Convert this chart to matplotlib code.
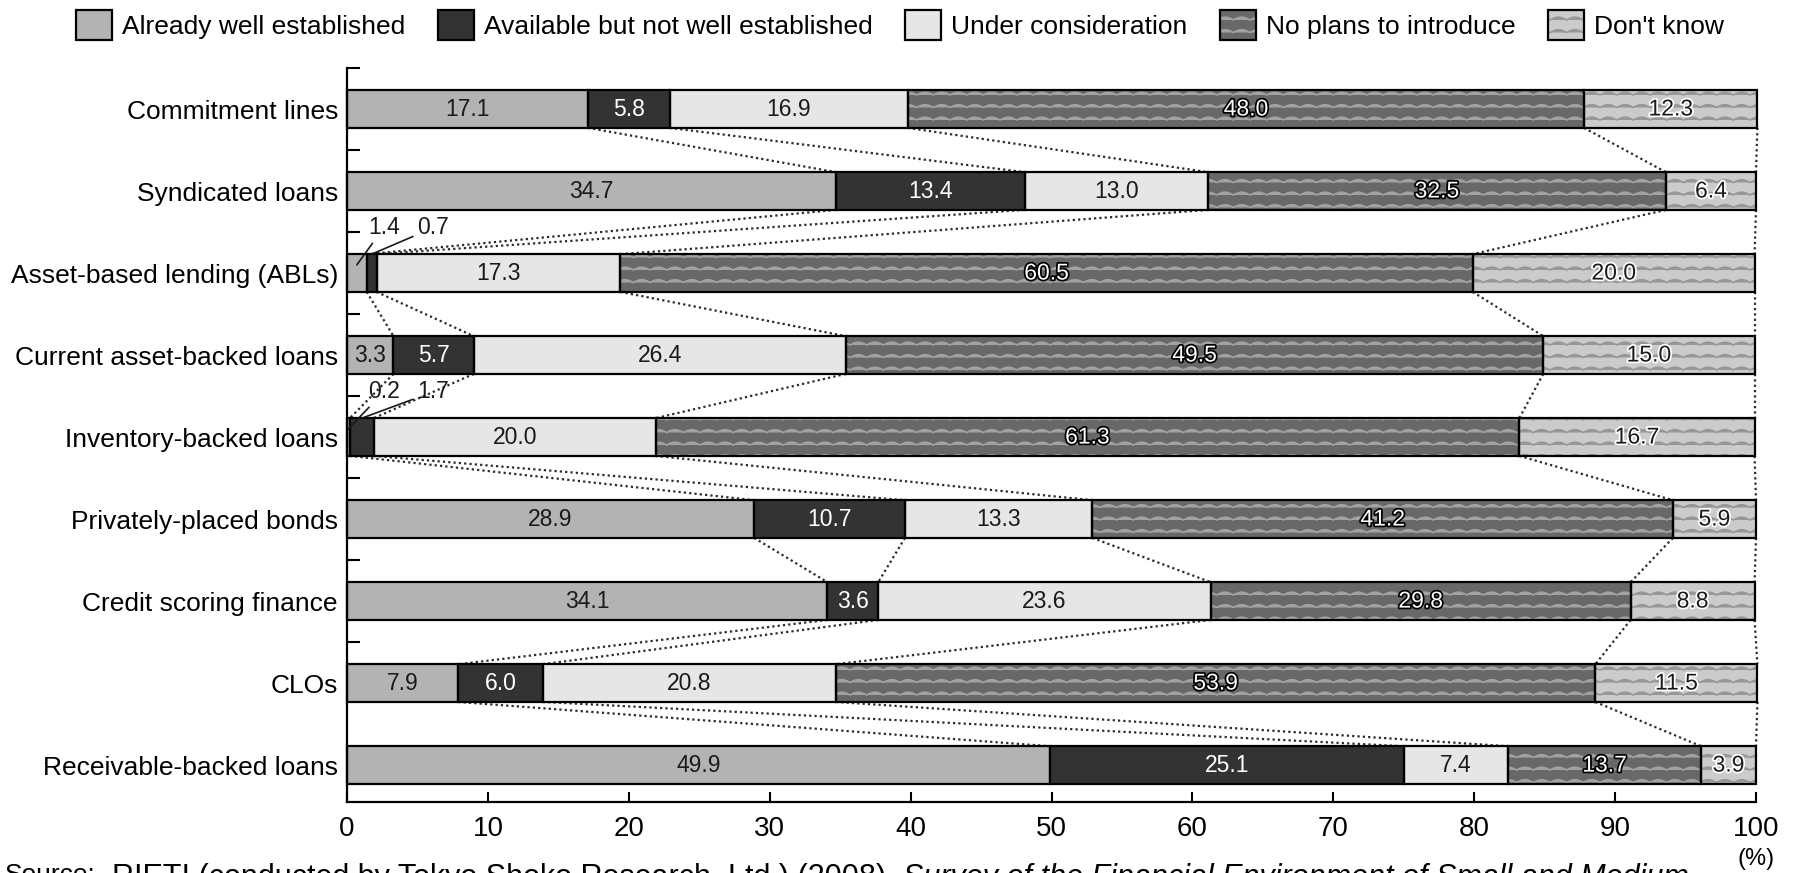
import warnings
import numpy as np
import matplotlib
matplotlib.use('Agg')
import matplotlib.pyplot as plt
import matplotlib.hatch as mhatch
import matplotlib.patheffects as pe
from matplotlib.path import Path
from matplotlib.patches import Patch
from matplotlib.legend_handler import HandlerTuple

# '~' is our own hatch code (registered below), so silence the validity warning
warnings.filterwarnings('ignore', message='hatch must consist')

products = ['Commitment lines', 'Syndicated loans', 'Asset-based lending (ABLs)',
            'Current asset-backed loans', 'Inventory-backed loans',
            'Privately-placed bonds', 'Credit scoring finance', 'CLOs',
            'Receivable-backed loans']
established = [17.1, 34.7, 1.4, 3.3, 0.2, 28.9, 34.1, 7.9, 49.9]
not_established = [5.8, 13.4, 0.7, 5.7, 1.7, 10.7, 3.6, 6.0, 25.1]
considering = [16.9, 13.0, 17.3, 26.4, 20.0, 13.3, 23.6, 20.8, 7.4]
no_plans = [48.0, 32.5, 60.5, 49.5, 61.3, 41.2, 29.8, 53.9, 13.7]
dont_know = [12.3, 6.4, 20.0, 15.0, 16.7, 5.9, 8.8, 11.5, 3.9]
series_names = ['Already well established', 'Available but not well established',
                'Under consideration', 'No plans to introduce', "Don't know"]
xticks = list(range(0, 101, 10))


class WaveHatch(mhatch.HatchPatternBase):
    """Rows of small arches, one set of rows per '~' in the hatch string."""

    def __init__(self, hatch, density):
        self.num_rows = hatch.count('~') * 8
        self.num_pts = 6 * 10 + 1
        self.num_vertices = self.num_rows * self.num_pts

    def set_vertices_and_codes(self, vertices, codes):
        t = np.linspace(0, 1, self.num_pts)
        for i in range(self.num_rows):
            s = slice(i * self.num_pts, (i + 1) * self.num_pts)
            vertices[s, 0] = t
            vertices[s, 1] = (i + 0.4) / self.num_rows + 0.028 * np.abs(np.sin(6 * np.pi * t))
            codes[s] = Path.LINETO
            codes[i * self.num_pts] = Path.MOVETO


mhatch._hatch_types.append(WaveHatch)

plt.rcParams['font.family'] = ['Liberation Sans', 'DejaVu Sans']
plt.rcParams['hatch.linewidth'] = 1.2

fills = ['#b3b3b3', '#333333', '#e6e6e6', '#686868', '#cbcbcb']
hatches = [None, None, None, '~', '~']
waves = ['#b3b3b3', '#333333', '#e6e6e6', '#a2a2a2', '#979797']
text_colors = ['#1a1a1a', 'white', '#1a1a1a', 'white', '#1a1a1a']
halo = [None, None, None, 'black', 'white']

values = np.array([established, not_established, considering, no_plans, dont_know])
n = len(products)
y = np.arange(n)
bar_h = 0.46

fig = plt.figure(figsize=(17.97, 8.73), dpi=100)
ax = fig.add_axes([347 / 1797, 71 / 873, 1409 / 1797, 734 / 873])

left = np.zeros(n)
for k in range(5):
    vals = values[k]
    ax.barh(y, vals, left=left, height=bar_h, color=fills[k], edgecolor=waves[k],
            linewidth=0, hatch=hatches[k], zorder=2, clip_on=False)
    ax.barh(y, vals, left=left, height=bar_h, fill=False, edgecolor='black',
            linewidth=1.6, zorder=3, clip_on=False)
    for i in range(n):
        v = vals[i]
        if v < 2:
            continue
        effects = None
        if halo[k]:
            effects = [pe.withStroke(linewidth=2.5, foreground=halo[k])]
        ax.text(left[i] + v / 2, i, f'{v:.1f}', ha='center', va='center',
                fontsize=16.5, color=text_colors[k], path_effects=effects, zorder=4)
    left = left + vals

# very small shares are labelled above the bar with a leader line
for i in range(n):
    cum = 0.0
    for k in range(2):
        v = values[k, i]
        if v < 2:
            anchor_y = i - 0.1 if k == 0 else i - bar_h / 2
            ax.annotate(f'{v:.1f}', xy=(cum + v / 2, anchor_y),
                        xytext=(2.6 + 3.5 * k, i - 0.55), ha='center', va='center',
                        fontsize=16.5, color='#1a1a1a', zorder=4,
                        arrowprops=dict(arrowstyle='-', lw=1.2, color='#1a1a1a',
                                        shrinkA=1, shrinkB=0))
        cum += v

# dotted lines joining the segment boundaries of neighbouring bars
cum = np.cumsum(values, axis=0)
for k in range(5):
    for i in range(n - 1):
        ax.plot([cum[k, i], cum[k, i + 1]], [i + bar_h / 2, i + 1 - bar_h / 2],
                linestyle=(0, (1, 1.4)), color='#2a2a2a', lw=1.6, zorder=1,
                clip_on=False)

ax.set_xlim(0, 100)
ax.set_ylim(n - 0.55, -0.5)
ax.set_yticks(y, products)
ax.set_yticks(np.arange(n - 1) - 0.5, minor=True)
ax.tick_params(axis='y', which='major', length=0, pad=6.5, labelsize=19)
ax.tick_params(axis='y', which='minor', direction='in', length=9.5, width=1.5)
ax.set_xticks(xticks)
ax.tick_params(axis='x', direction='in', length=7, width=1.5, pad=10, labelsize=20)
for side in ['top', 'right']:
    ax.spines[side].set_visible(False)
for side in ['left', 'bottom']:
    ax.spines[side].set_linewidth(1.6)

ax.annotate('(%)', xy=(100, 0), xycoords=('data', 'axes fraction'),
            xytext=(0, -33), textcoords='offset points', ha='center', va='top',
            fontsize=17)

handles = [(Patch(facecolor=fills[k], edgecolor=waves[k], lw=0, hatch=hatches[k]),
            Patch(fill=False, edgecolor='black', lw=1.6)) for k in range(5)]
fig.legend(handles, series_names, handler_map={tuple: HandlerTuple(ndivide=1)},
           loc='upper left', bbox_to_anchor=(76 / 1797, 1 - 10 / 873), ncol=5,
           frameon=False, fontsize=19, handlelength=1.35, handleheight=1.35,
           handletextpad=0.38, columnspacing=1.25, borderpad=0, borderaxespad=0)

# source line along the bottom edge
fig.text(5 / 1797, 1 - 863 / 873, 'Source:', fontsize=19, va='top')
src = fig.text(112 / 1797, 1 - 863 / 873,
               'RIETI (conducted by Tokyo Shoko Research, Ltd.) (2008), ',
               fontsize=22, va='top')
fig.canvas.draw()
bb = src.get_window_extent()
fig.text(bb.x1 / fig.bbox.width, 1 - 863 / 873,
         'Survey of the Financial Environment of Small and Medium',
         fontsize=22, va='top', style='italic')

fig.savefig('out.png', dpi=100)
